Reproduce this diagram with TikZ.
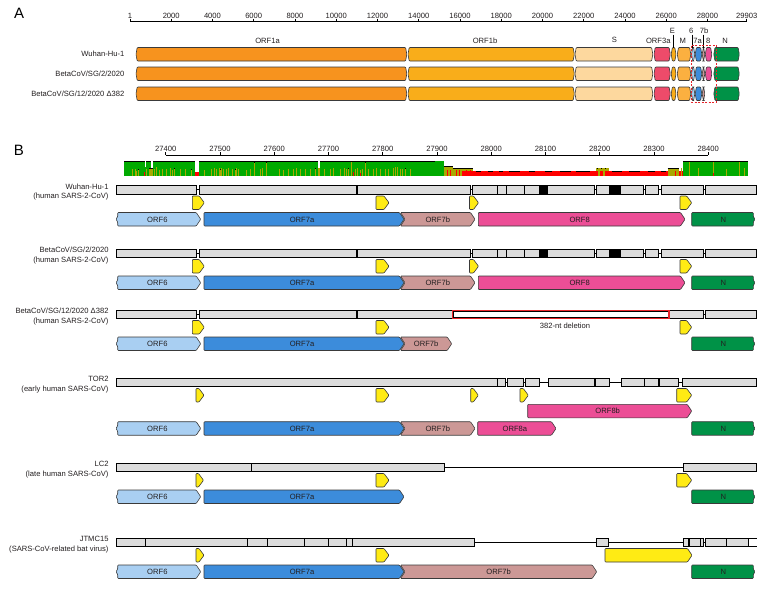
\documentclass[tikz,border=0pt]{standalone}
\usepackage{fontspec}
\setmainfont{Liberation Sans}
\definecolor{txt}{HTML}{231F20}
\definecolor{outl}{HTML}{3A3A3A}
\definecolor{cOnea}{HTML}{F7931E}
\definecolor{cOneb}{HTML}{F9AD1A}
\definecolor{cS}{HTML}{FDD89E}
\definecolor{cThree}{HTML}{EE4B6A}
\definecolor{cE}{HTML}{F9AD1A}
\definecolor{cM}{HTML}{FBB040}
\definecolor{cSix}{HTML}{A9CFF2}
\definecolor{cSevA}{HTML}{3C8CDB}
\definecolor{cSevB}{HTML}{CC9896}
\definecolor{cEight}{HTML}{EC4E96}
\definecolor{cN}{HTML}{009247}
\definecolor{cTRS}{HTML}{FFEB14}
\definecolor{cBar}{HTML}{DCDCDC}
\definecolor{cGreen}{HTML}{00AA00}
\definecolor{cOlive}{HTML}{A9A800}
\definecolor{cRed}{HTML}{FF0000}
\definecolor{cDel}{HTML}{E8242A}
\tikzset{
  gene/.style={draw=outl, line width=0.6pt, rounded corners=0.8pt},
  orf/.style={draw=outl, line width=0.6pt, rounded corners=0.8pt},
  trsmark/.style={fill=cTRS, draw=outl, line width=0.6pt, rounded corners=0.8pt},
  bar/.style={fill=cBar, draw=black, line width=0.6pt},
  barline/.style={draw=black, line width=0.6pt},
  lbl/.style={font=\fontsize{7.6}{9}\selectfont, text=txt, inner sep=0pt, outer sep=0pt},
  rowlbl/.style={lbl, anchor=east, text height=5.5pt, text depth=1.5pt},
  panel/.style={font=\fontsize{15}{16}\selectfont, text=black, inner sep=0pt},
}
% panel A gene box
\newcommand\gA[4]{\filldraw[gene, fill=#4] ({#1+1.2},#3) -- ({#2-1.2},#3) -- (#2,{#3+6.75}) -- ({#2-1.2},{#3+13.5}) -- ({#1+1.2},{#3+13.5}) -- (#1,{#3+6.75}) -- cycle;}
\newcommand\rowA[1]{%
  \gA{136}{406.8}{#1}{cOnea}\gA{408}{574.3}{#1}{cOneb}\gA{575}{652.8}{#1}{cS}%
  \gA{654}{670.3}{#1}{cThree}\gA{671.2}{676}{#1}{cE}\gA{677.3}{690.8}{#1}{cM}%
  \gA{691.5}{694.8}{#1}{cSix}\gA{695.2}{701.8}{#1}{cSevA}\gA{702.2}{704.8}{#1}{cSevB}%
  \gA{713.8}{739.3}{#1}{cN}}
% panel B ORF boxes
\newcommand\orfB[6]{\filldraw[orf, fill=#4] (#1,#3) -- ({#2-4.5},#3) -- (#2,{#3+6.75}) -- ({#2-4.5},{#3+13.5}) -- (#1,{#3+13.5}) -- cycle;
  \node[lbl] (#6) at ({(#1+#2)/2-2},{#3+6.9}) {#5};}
\newcommand\orfBL[6]{\filldraw[orf, fill=#4] ({#1+1.7},#3) -- ({#2-4.5},#3) -- (#2,{#3+6.75}) -- ({#2-4.5},{#3+13.5}) -- ({#1+1.7},{#3+13.5}) -- ({#1+1.7},{#3+9.5}) -- (#1,{#3+6.75}) -- ({#1+1.7},{#3+4}) -- cycle;
  \node[lbl] (#6) at ({(#1+#2)/2-1},{#3+6.9}) {#5};}
\newcommand\orfBR[6]{\filldraw[orf, fill=#4] (#1,#3) -- ({#2-1.7},#3) -- ({#2-1.7},{#3+4}) -- (#2,{#3+6.75}) -- ({#2-1.7},{#3+9.5}) -- ({#2-1.7},{#3+13.5}) -- (#1,{#3+13.5}) -- cycle;
  \node[lbl] (#6) at ({(#1+#2)/2},{#3+6.9}) {#5};}
\newcommand\orfBN[6]{\filldraw[orf, fill=#4] (#1,#3) -- ({#2-4.5},#3) -- (#2,{#3+6.75}) -- ({#2-4.5},{#3+13.5}) -- (#1,{#3+13.5}) -- ({#1+4.5},{#3+6.75}) -- cycle;
  \node[lbl] (#6) at ({(#1+#2)/2},{#3+6.9}) {#5};}
\newcommand\trs[3]{\filldraw[trsmark] (#1,#3) -- ({#2-5},#3) -- (#2,{#3+6.75}) -- ({#2-5},{#3+13.5}) -- (#1,{#3+13.5}) -- cycle;}
\newcommand\bseg[3]{\filldraw[bar] (#1,#3) rectangle (#2,{#3+8.5});}
\newcommand\bsep[2]{\draw[barline] (#1,#2) -- (#1,{#2+8.5});}
\newcommand\bsepk[2]{\draw[black, line width=1.5pt] (#1,#2) -- (#1,{#2+8.5});}
\newcommand\bblk[3]{\fill[black] (#1,#3) rectangle (#2,{#3+8.5});}
\newcommand\bmid[3]{\draw[barline] (#1,{#3+4.25}) -- (#2,{#3+4.25});}
\newcommand\sarsTwoBar[1]{%
  \bmid{116}{756.7}{#1}%
  \bseg{116}{196.7}{#1}\bseg{199.3}{356}{#1}\bseg{357.7}{470.7}{#1}\bseg{472.7}{594.3}{#1}%
  \bseg{596.7}{643.3}{#1}\bseg{645.7}{658.7}{#1}\bseg{661}{703.7}{#1}\bseg{705.7}{756.7}{#1}%
  \bsep{497.7}{#1}\bsep{506}{#1}\bsep{524}{#1}\bblk{539}{547.7}{#1}\bblk{609.3}{620.7}{#1}}
\begin{document}
\begin{tikzpicture}[x=1pt,y=-1pt]
\useasboundingbox (0,0) rectangle (769,590);
\fill[white] (0,0) rectangle (769,590);

% ================= Panel A =================
\node[panel] (labA) at (19.2,13.8) {A};
\draw[barline] (130,21.7) -- (746.7,21.7);
\foreach \k/\lab in {0.001/1,2/2000,4/4000,6/6000,8/8000,10/10000,12/12000,14/14000,16/16000,18/18000,20/20000,22/22000,24/24000,26/26000,28/28000,29.903/29903} {
  \pgfmathsetmacro\xx{130+((\k-0.001)/29.902)*616.7}
  \draw[barline] (\xx,18.6) -- (\xx,21.7);
  \node[lbl] (ta\lab) at (\xx,16) {\lab};
}
\node[rowlbl] (ra1) at (124.3,54.5) {Wuhan-Hu-1};
\node[rowlbl] (ra2) at (124.3,74) {BetaCoV/SG/2/2020};
\node[rowlbl] (ra3) at (124.3,94) {BetaCoV/SG/12/2020 Δ382};
\rowA{47.5}\gA{705.3}{711.8}{47.5}{cEight}
\rowA{67}\gA{705.3}{711.8}{67}{cEight}
\rowA{87}
\node[lbl] (gOnea) at (267.5,40.5) {ORF1a};
\node[lbl] (gOneb) at (485,40.5) {ORF1b};
\node[lbl] (gS) at (614.3,39.5) {S};
\node[lbl] (gThree) at (658.3,40.5) {ORF3a};
\node[lbl] (gE) at (672.3,31) {E};
\node[lbl] (gM) at (682.7,41) {M};
\node[lbl] (gSix) at (691.3,31) {6};
\node[lbl] (gSevB) at (704,31) {7b};
\node[lbl] (gSevA) at (697.5,41) {7a};
\node[lbl] (gEight) at (708.3,41) {8};
\node[lbl] (gN) at (725,41) {N};
\draw[barline] (673.4,34.6) -- (673.4,47.5);
\draw[barline] (692.7,34.6) -- (692.7,47.5);
\draw[barline] (702.8,34.6) -- (702.8,47.5);
\draw[cDel, line width=0.9pt, dash pattern=on 2pt off 1.5pt] (691.7,45.5) rectangle (716.7,102);

% ================= Panel B =================
\node[panel] (labB) at (18.8,150.5) {B};
\draw[barline] (165.7,155) -- (708.2,155);
\foreach \i/\lab in {0/27400,1/27500,2/27600,3/27700,4/27800,5/27900,6/28000,7/28100,8/28200,9/28300,10/28400} {
  \pgfmathsetmacro\xx{165.7+54.25*\i}
  \draw[barline] (\xx,152.3) -- (\xx,155);
  \node[lbl] (tb\i) at (\xx,149.2) {\lab};
}
% conservation plot
\fill[cGreen] (124,160.8) rectangle (444.3,176);
\draw[black, line width=0.7pt] (124,161.1) -- (444.3,161.1);
\foreach \x/\t in {132.3/169,135/169,136.7/171,138.7/169,146.7/169,154.7/169,156.7/167,159.3/170,162.7/169,166.7/169,170/168,172.7/170,174.3/168,180/169,185.3/169,191/169,204/170,211.7/169,214.3/168,216.7/169,219/168,220/169,221/168,223.3/169,226/169,228.7/168,232/169,235/169,236.7/168,238.3/169,246.7/170,250/169,254.3/162,260/169,262.7/168,266.7/162,279.3/169,283.3/170,288.3/169,293.3/169,296/168,300/169,305/169,310.7/169,315/168,324/169,330/169,333.3/168,340/169,344/168,346.7/169,348.3/168,351.7/162,355/169,357.3/168,360/170,362.7/169,365/162,368.3/169,373.3/169,376.7/168,380/169,385/169,388.3/169,393.3/168,395.3/167,397.7/167,400/169,402.7/169,405.3/168,410/169,435/162}
  {\fill[cOlive] (\x-0.5,\t) rectangle (\x+0.5,176);}
\foreach \x/\t in {138.7/169,174.3/168,191/169,220/169,235/169,254.3/162,266.7/162,315/168,348.3/168,365/162,405.3/168}
  {\fill[black] (\x-0.5,\t) rectangle (\x+0.5,\t+0.9);}
\fill[cOlive] (149.3,167.7) rectangle (152.7,176);
\fill[black] (149.3,167.7) rectangle (152.7,168.5);
\fill[cOlive] (317.7,168) rectangle (320,176);
\fill[white] (145,160.3) rectangle (146.2,167);
\fill[white] (151,160.3) rectangle (153,167.6);
\fill[white] (195,160.3) rectangle (198.7,171.7);
\fill[cRed] (195,171.7) rectangle (198.7,176);
\fill[white] (318.3,160.3) rectangle (320,167.8);
\fill[cRed] (143.5,172) rectangle (144.6,176);
\fill[cRed] (352.8,172) rectangle (353.9,176);
\fill[cRed] (360,173) rectangle (361,176);
% divergent region
\fill[cGreen] (435,160.8) rectangle (444.3,176);
\fill[cRed] (455,170.7) rectangle (683.3,176);
\fill[cOlive] (444.3,165.7) rectangle (453,176);
\fill[cOlive] (453,168.3) rectangle (473,170.7);
\fill[cOlive] (453,170.7) rectangle (462,176);
\draw[black, line width=0.6pt] (444.3,165.9) -- (453,165.9) (453,168.5) -- (473,168.5);
\foreach \x in {447,450,456,459,466,470} {\fill[cRed] (\x-0.4,170) rectangle (\x+0.4,176);}
\foreach \a/\b in {476/481,488/493,499/503,509/520,529/535,545/552,560/571,576/590,612/622,629/640,648/655,661/666}
  {\draw[black, line width=0.6pt] (\a,170.9) -- (\b,170.9);}
\fill[cOlive] (595.7,167.7) rectangle (609,170.7);
\fill[cOlive] (598,170.7) rectangle (600,176);
\fill[cOlive] (603,170.7) rectangle (604.5,176);
\foreach \x in {597,601,605} {\fill[black] (\x-0.5,167.7) rectangle (\x+0.5,168.6);}
\fill[cOlive] (667.7,167.7) rectangle (679.3,176);
\fill[cOlive] (680.5,167.7) rectangle (682,176);
\draw[black, line width=0.6pt] (667.7,167.9) -- (679.3,167.9);
\foreach \x in {675} {\fill[cRed] (\x-0.4,171) rectangle (\x+0.4,176);}
\fill[cGreen] (683.3,160.8) rectangle (748.3,176);
\draw[black, line width=0.7pt] (683.3,161.1) -- (748.3,161.1);
\foreach \x/\t in {689/162,698.3/168,713.3/162,726/169,739/162,744/168}
  {\fill[cOlive] (\x-0.5,\t) rectangle (\x+0.5,176);}
\fill[cRed] (712.8,173) rectangle (713.8,176);

% ---- Row 1: Wuhan-Hu-1 ----
\node[rowlbl] (r1a) at (108.5,187) {Wuhan-Hu-1};
\node[rowlbl] (r1b) at (108.5,196.5) {(human SARS-2-CoV)};
\sarsTwoBar{185.5}
\trs{192.3}{204.3}{196}\trs{376}{389}{196}\trs{469.5}{478.5}{196}\trs{680}{691.7}{196}
\orfBN{400.5}{475}{212.5}{cSevB}{ORF7b}{o1c}
\orfBL{116}{200.7}{212.5}{cSix}{ORF6}{o1a}
\orfB{204}{404}{212.5}{cSevA}{ORF7a}{o1b}
\orfB{478.3}{685}{212.5}{cEight}{ORF8}{o1d}
\orfBR{691.7}{755}{212.5}{cN}{N}{o1e}

% ---- Row 2: SG/2 ----
\node[rowlbl] (r2a) at (108.5,250.5) {BetaCoV/SG/2/2020};
\node[rowlbl] (r2b) at (108.5,260) {(human SARS-2-CoV)};
\sarsTwoBar{249}
\trs{192.3}{204.3}{259.5}\trs{376}{389}{259.5}\trs{469.5}{478.5}{259.5}\trs{680}{691.7}{259.5}
\orfBN{400.5}{475}{276}{cSevB}{ORF7b}{o2c}
\orfBL{116}{200.7}{276}{cSix}{ORF6}{o2a}
\orfB{204}{404}{276}{cSevA}{ORF7a}{o2b}
\orfB{478.3}{685}{276}{cEight}{ORF8}{o2d}
\orfBR{691.7}{755}{276}{cN}{N}{o2e}

% ---- Row 3: SG/12 delta382 ----
\node[rowlbl] (r3a) at (108.5,311.5) {BetaCoV/SG/12/2020 Δ382};
\node[rowlbl] (r3b) at (108.5,321) {(human SARS-2-CoV)};
\bmid{116}{452.3}{310}\bmid{669}{756.7}{310}
\bseg{116}{196.7}{310}\bseg{199.3}{356}{310}\bseg{357.7}{452.3}{310}
\bseg{669}{703.5}{310}\bseg{705.7}{756.7}{310}
\filldraw[fill=white, draw=black, line width=0.6pt] (453.3,311.6) rectangle (668,316.9);
\draw[cDel, line width=1.3pt] (452.3,310.3) rectangle (669,318.2);
\node[lbl] (del) at (565,325.8) {382-nt deletion};
\trs{192.3}{204.3}{320.5}\trs{376}{389}{320.5}\trs{680}{691.7}{320.5}
\orfBN{400.5}{451.7}{337}{cSevB}{ORF7b}{o3c}
\orfBL{116}{200.7}{337}{cSix}{ORF6}{o3a}
\orfB{204}{404}{337}{cSevA}{ORF7a}{o3b}
\orfBR{691.7}{755}{337}{cN}{N}{o3e}

% ---- Row 4: TOR2 ----
\node[rowlbl] (r4a) at (108.5,379.8) {TOR2};
\node[rowlbl] (r4b) at (108.5,389.2) {(early human SARS-CoV)};
\bmid{116}{756.7}{378}
\bseg{116}{497.3}{378}\bseg{497.3}{505.7}{378}\bseg{507.7}{523.3}{378}\bseg{525.3}{539.3}{378}
\bseg{548.3}{609.3}{378}\bsepk{595}{378}
\bseg{621}{678.3}{378}\bsep{644.3}{378}\bsepk{659}{378}
\bseg{682.3}{756.7}{378}
\trs{196}{204}{388.5}\trs{376}{389}{388.5}\trs{470.7}{478.3}{388.5}\trs{520}{528.3}{388.5}\trs{676.7}{691.7}{388.5}
\orfB{527.7}{691.7}{404.3}{cEight}{ORF8b}{o4f}
\orfBN{400.5}{475}{421.7}{cSevB}{ORF7b}{o4c}
\orfBL{116}{200.7}{421.7}{cSix}{ORF6}{o4a}
\orfB{204}{404}{421.7}{cSevA}{ORF7a}{o4b}
\orfB{477.7}{556}{421.7}{cEight}{ORF8a}{o4d}
\orfBR{691.7}{755}{421.7}{cN}{N}{o4e}

% ---- Row 5: LC2 ----
\node[rowlbl] (r5a) at (108.5,464.5) {LC2};
\node[rowlbl] (r5b) at (108.5,474) {(late human SARS-CoV)};
\bmid{116}{756.7}{463}
\bseg{116}{444.3}{463}\bsep{251}{463}
\bseg{683.3}{756.7}{463}
\trs{196}{203.5}{473.5}\trs{376}{389}{473.5}\trs{676.7}{691.7}{473.5}
\orfBL{116}{200.7}{490}{cSix}{ORF6}{o5a}
\orfB{204}{404}{490}{cSevA}{ORF7a}{o5b}
\orfBR{691.7}{755}{490}{cN}{N}{o5e}

% ---- Row 6: JTMC15 ----
\node[rowlbl] (r6a) at (108.5,539.5) {JTMC15};
\node[rowlbl] (r6b) at (108.5,549) {(SARS-CoV-related bat virus)};
\bmid{116}{705.7}{538}
\bseg{116}{474.3}{538}\bsepk{145.7}{538}
\bsep{247.3}{538}\bsep{267.3}{538}\bsep{304.3}{538}\bsep{328.7}{538}\bsep{346.7}{538}\bsep{352.3}{538}
\bseg{596.7}{608.3}{538}
\bseg{683.3}{703.3}{538}\bsepk{689}{538}\bsep{700}{538}
\bseg{705.7}{748.3}{538}\bsep{726.7}{538}
\draw[barline] (748.3,538) -- (756.7,538) (748.3,546.5) -- (756.7,546.5);
\trs{196}{204}{548.5}\trs{376}{389}{548.5}
\orfB{605}{692}{548.5}{cTRS}{}{o6f}
\orfBN{400.5}{596.7}{565}{cSevB}{ORF7b}{o6c}
\orfBL{116}{200.7}{565}{cSix}{ORF6}{o6a}
\orfB{204}{404}{565}{cSevA}{ORF7a}{o6b}
\orfBR{691.7}{755}{565}{cN}{N}{o6e}
\end{tikzpicture}
\end{document}
